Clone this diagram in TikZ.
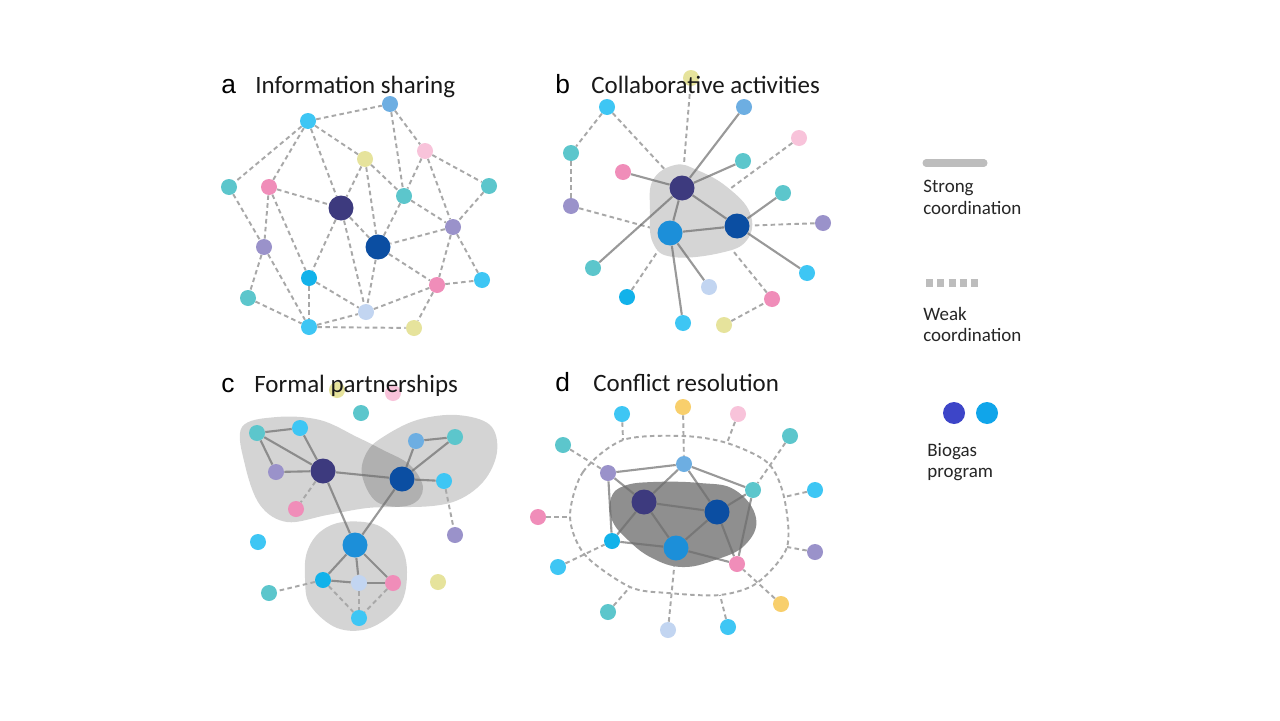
\documentclass[tikz,border=0pt]{standalone}
\usepackage{fontspec}
\setmainfont{Carlito}
\newfontfamily\letterfont{Liberation Sans}
\pgfdeclarelayer{bglayer}
\pgfdeclarelayer{weaklayer}
\pgfdeclarelayer{bloblayer}
\pgfdeclarelayer{stronglayer}
\pgfsetlayers{bglayer,weaklayer,bloblayer,stronglayer,main}
\definecolor{cDP}{HTML}{3D3A7E}
\definecolor{cDB}{HTML}{0B4EA2}
\definecolor{cBB}{HTML}{1C8FD9}
\definecolor{cCy}{HTML}{3EC6F4}
\definecolor{cCy2}{HTML}{12B2EA}
\definecolor{cTe}{HTML}{5CC6CC}
\definecolor{cPk}{HTML}{F08DB9}
\definecolor{cPL}{HTML}{F8C3DA}
\definecolor{cYe}{HTML}{E6E39C}
\definecolor{cOr}{HTML}{F8CF6C}
\definecolor{cPu}{HTML}{9A92CA}
\definecolor{cSt}{HTML}{6DAEE2}
\definecolor{cLB}{HTML}{C2D5F1}
\definecolor{edgegray}{HTML}{A8A8A8}
\definecolor{solidgray}{HTML}{6E6E6E}
\definecolor{blobgray}{HTML}{D5D5D5}
\definecolor{darkblob}{HTML}{8F8F8F}
\definecolor{lgBlue}{HTML}{3D45C8}
\definecolor{lgCyan}{HTML}{10A5EA}
\definecolor{legendline}{HTML}{BDBDBD}
\tikzset{
  sn/.style={circle,inner sep=0pt,minimum size=0.32cm,fill=#1},
  bn/.style={circle,inner sep=0pt,minimum size=0.5cm,fill=#1},
  wk/.style={draw=edgegray,line width=1.1pt,dash pattern=on 2.6pt off 1.9pt},
  sg/.style={draw=solidgray,draw opacity=0.7,line width=1.2pt},
  ttl/.style={anchor=base west,inner sep=0pt,font=\fontsize{14.2}{17}\selectfont,text=black!90},
  ltr/.style={anchor=base west,inner sep=0pt,font=\letterfont\fontsize{15}{18}\selectfont},
  lgd/.style={anchor=north west,inner sep=0pt,align=left,font=\fontsize{10.8}{12.2}\selectfont,text=black!85},
}
\begin{document}
\begin{tikzpicture}[x=0.02cm,y=-0.02cm]
\begin{pgfonlayer}{bglayer}
\fill[white] (0,0) rectangle (1280,720);
\end{pgfonlayer}
\useasboundingbox (0,0) rectangle (1280,720);

% ---------------- panel a ----------------
\node[sn=cSt] (a1) at (390,104) {};
\node[sn=cCy] (a2) at (308,121) {};
\node[sn=cYe] (a3) at (365,159) {};
\node[sn=cPL] (a4) at (425,151) {};
\node[sn=cTe] (a5) at (229,187) {};
\node[sn=cPk] (a6) at (269,187) {};
\node[bn=cDP] (a7) at (341,208) {};
\node[sn=cTe] (a8) at (404,196) {};
\node[sn=cTe] (a9) at (489,186) {};
\node[sn=cPu] (a10) at (453,227) {};
\node[bn=cDB] (a11) at (378,247) {};
\node[sn=cPu] (a12) at (264,247) {};
\node[sn=cCy2] (a13) at (309,278) {};
\node[sn=cPk] (a14) at (437,285) {};
\node[sn=cCy] (a15) at (482,280) {};
\node[sn=cTe] (a16) at (248,298) {};
\node[sn=cLB] (a17) at (366,312) {};
\node[sn=cCy] (a18) at (309,327) {};
\node[sn=cYe] (a19) at (414,328) {};
\begin{pgfonlayer}{weaklayer}
\foreach \u/\v in {a2/a1,a2/a5,a2/a6,a2/a7,a2/a3,a1/a4,a1/a8,a3/a7,a3/a8,a3/a11,a4/a8,a4/a9,a4/a10,a8/a10,a8/a11,a9/a10,a10/a11,a10/a14,a10/a15,a5/a12,a6/a7,a6/a12,a6/a13,a7/a11,a7/a13,a7/a17,a11/a17,a11/a14,a12/a16,a12/a18,a13/a17,a13/a18,a16/a18,a18/a17,a18/a19,a17/a14,a14/a15,a14/a19}
  \draw[wk] (\u) -- (\v);
\end{pgfonlayer}

% ---------------- panel b ----------------
\node[sn=cYe] (b1) at (691,78) {};
\node[sn=cCy] (b2) at (607,107) {};
\node[sn=cSt] (b3) at (744,107) {};
\node[sn=cPL] (b4) at (799,138) {};
\node[sn=cTe] (b5) at (571,153) {};
\node[sn=cTe] (b6) at (743,161) {};
\node[sn=cPk] (b7) at (623,172) {};
\node[bn=cDP] (b8) at (682,188) {};
\node[sn=cTe] (b9) at (783,193) {};
\node[sn=cPu] (b10) at (571,206) {};
\node[sn=cPu] (b11) at (823,223) {};
\node[bn=cDB] (b12) at (737,226) {};
\node[bn=cBB] (b13) at (670,233) {};
\node[sn=cTe] (b14) at (593,268) {};
\node[sn=cCy] (b15) at (807,273) {};
\node[sn=cLB] (b16) at (709,287) {};
\node[sn=cCy2] (b17) at (627,297) {};
\node[sn=cPk] (b18) at (772,299) {};
\node[sn=cCy] (b19) at (683,323) {};
\node[sn=cYe] (b20) at (724,325) {};
\begin{pgfonlayer}{weaklayer}
\foreach \u/\v in {b2/b5,b5/b10,b2/b8,b1/b8,b10/b13,b4/b13,b11/b12,b17/b13,b18/b8,b20/b18}
  \draw[wk] (\u) -- (\v);
\end{pgfonlayer}
\begin{pgfonlayer}{bloblayer}
\fill[blobgray] plot[smooth cycle,tension=0.7] coordinates {(653,180) (675,165) (697,170) (727,187) (750,213) (747,240) (720,253) (673,257) (653,243) (650,210)};
\end{pgfonlayer}
\begin{pgfonlayer}{stronglayer}
\foreach \u/\v in {b8/b3,b8/b6,b8/b7,b8/b14,b8/b12,b8/b13,b13/b12,b12/b9,b12/b15,b13/b19,b13/b16}
  \draw[sg] (\u) -- (\v);
\end{pgfonlayer}

% ---------------- panel c ----------------
\node[sn=cYe] (c1) at (337,390) {};
\node[sn=cPL] (c2) at (393,393) {};
\node[sn=cTe] (c3) at (361,413) {};
\node[sn=cTe] (c4) at (257,433) {};
\node[sn=cCy] (c5) at (300,428) {};
\node[sn=cSt] (c6) at (416,441) {};
\node[sn=cTe] (c7) at (455,437) {};
\node[sn=cPu] (c8) at (276,472) {};
\node[bn=cDP] (c9) at (323,471) {};
\node[bn=cDB] (c10) at (402,479) {};
\node[sn=cCy] (c11) at (444,481) {};
\node[sn=cPk] (c12) at (296,509) {};
\node[sn=cCy] (c13) at (258,542) {};
\node[sn=cPu] (c14) at (455,535) {};
\node[bn=cBB] (c15) at (355,545) {};
\node[sn=cCy2] (c16) at (323,580) {};
\node[sn=cLB] (c17) at (359,583) {};
\node[sn=cPk] (c18) at (393,583) {};
\node[sn=cYe] (c19) at (438,582) {};
\node[sn=cTe] (c20) at (269,593) {};
\node[sn=cCy] (c21) at (359,618) {};
\begin{pgfonlayer}{weaklayer}
\fill[black,fill opacity=0.17] plot[smooth cycle,tension=0.6] coordinates {(242,427) (277,417) (320,420) (357,437) (383,450) (410,465) (423,488) (410,505) (367,508) (327,515) (287,522) (260,505) (245,465)};
\fill[black,fill opacity=0.17] plot[smooth cycle,tension=0.6] coordinates {(362,475) (367,452) (383,437) (417,420) (457,415) (490,425) (497,452) (483,482) (453,502) (410,507) (377,502)};
\fill[black,fill opacity=0.17] plot[smooth cycle,tension=0.6] coordinates {(307,552) (320,532) (343,522) (377,525) (400,545) (407,572) (400,605) (370,628) (337,628) (310,605) (305,578)};
\foreach \u/\v in {c9/c12,c11/c14,c16/c20,c16/c21,c17/c21,c18/c21}
  \draw[wk] (\u) -- (\v);
\end{pgfonlayer}
\begin{pgfonlayer}{stronglayer}
\foreach \u/\v in {c4/c5,c4/c8,c4/c9,c5/c9,c8/c9,c9/c10,c9/c15,c10/c15,c10/c6,c10/c7,c6/c7,c10/c11,c15/c16,c15/c17,c15/c18,c16/c17,c17/c18}
  \draw[sg] (\u) -- (\v);
\end{pgfonlayer}

% ---------------- panel d ----------------
\node[sn=cCy] (d1) at (622,414) {};
\node[sn=cOr] (d2) at (683,407) {};
\node[sn=cPL] (d3) at (738,414) {};
\node[sn=cTe] (d4) at (563,445) {};
\node[sn=cTe] (d5) at (790,436) {};
\node[sn=cSt] (d6) at (684,464) {};
\node[sn=cPu] (d7) at (608,473) {};
\node[sn=cTe] (d8) at (753,490) {};
\node[sn=cCy] (d9) at (815,490) {};
\node[bn=cDP] (d10) at (644,502) {};
\node[bn=cDB] (d11) at (717,512) {};
\node[sn=cPk] (d12) at (538,517) {};
\node[sn=cCy2] (d13) at (612,541) {};
\node[bn=cBB] (d14) at (676,548) {};
\node[sn=cPu] (d15) at (815,552) {};
\node[sn=cCy] (d16) at (558,567) {};
\node[sn=cPk] (d17) at (737,564) {};
\node[sn=cOr] (d18) at (781,604) {};
\node[sn=cTe] (d19) at (608,612) {};
\node[sn=cLB] (d20) at (668,630) {};
\node[sn=cCy] (d21) at (728,627) {};
\coordinate (j1) at (570,517);
\coordinate (j2) at (583,472);
\coordinate (j3) at (623,440);
\coordinate (j4) at (683,436);
\coordinate (j5) at (727,443);
\coordinate (j6) at (768,463);
\coordinate (j7) at (784,497);
\coordinate (j8) at (787,547);
\coordinate (j9) at (757,583);
\coordinate (j10) at (720,595);
\coordinate (j11) at (668,593);
\coordinate (j12) at (630,587);
\coordinate (j13) at (585,555);
\begin{pgfonlayer}{weaklayer}
\draw[wk] plot[smooth cycle,tension=0.5] coordinates {(j1) (j2) (j3) (j4) (j5) (j6) (j7) (j8) (j9) (j10) (j11) (j12) (j13)};
\foreach \u/\v in {d12/j1,d1/j3,d2/d6,d3/j5,d5/d8,d9/j7,d15/j8,d18/d17,d21/j10,d20/d14,d19/j12,d16/d13,d4/d7}
  \draw[wk] (\u) -- (\v);
\end{pgfonlayer}
\begin{pgfonlayer}{bloblayer}
\fill[darkblob] plot[smooth cycle,tension=0.7] coordinates {(611,498) (624,486) (653,482) (700,483) (735,490) (756,518) (745,545) (715,560) (682,567) (652,558) (628,540) (612,520)};
\end{pgfonlayer}
\begin{pgfonlayer}{stronglayer}
\foreach \u/\v in {d7/d6,d6/d8,d7/d10,d7/d13,d6/d10,d6/d11,d10/d11,d10/d13,d10/d14,d11/d14,d11/d8,d11/d17,d8/d17,d13/d14,d14/d17}
  \draw[sg] (\u) -- (\v);
\end{pgfonlayer}

% ---------------- titles ----------------
\node[ltr] (la) at (221,93) {a};
\node[ttl] (ta) at (255,93) {Information sharing};
\node[ltr] (lb) at (555,93) {b};
\node[ttl] (tb) at (591,93) {Collaborative activities};
\node[ltr] (lc) at (221,392) {c};
\node[ttl] (tc) at (254,392) {Formal partnerships};
\node[ltr] (ld) at (555,391) {d};
\node[ttl] (td) at (593,391) {Conflict resolution};

% ---------------- legend ----------------
\coordinate (s1) at (926,163);
\coordinate (s2) at (984,163);
\draw[legendline,line width=4pt,line cap=round] (s1) -- (s2);
\node[lgd] (ls) at (923,180) {Strong\\coordination};
\coordinate (w1) at (926,283);
\coordinate (w2) at (979,283);
\draw[legendline,line width=4pt,dash pattern=on 4pt off 2.4pt] (w1) -- (w2);
\node[lgd] (lw) at (923,307) {Weak\\coordination};
\node[circle,inner sep=0pt,minimum size=0.44cm,fill=lgBlue] (g1) at (954,413) {};
\node[circle,inner sep=0pt,minimum size=0.44cm,fill=lgCyan] (g2) at (987,413) {};
\node[lgd] (lg) at (927,443) {Biogas\\program};
\end{tikzpicture}
\end{document}
